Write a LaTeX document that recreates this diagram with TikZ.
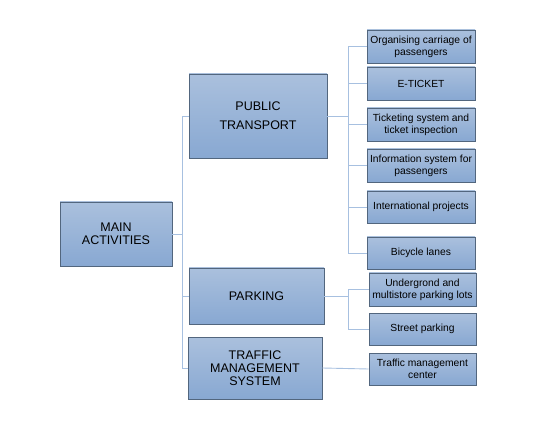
\documentclass[tikz,border=0pt]{standalone}
\usepackage{fontspec}
\setmainfont{Liberation Sans}
\definecolor{boxtop}{HTML}{AAC0DD}
\definecolor{boxbot}{HTML}{88A8D2}
\definecolor{boxline}{HTML}{52667E}
\definecolor{conn}{HTML}{A7C0E0}
\begin{document}
\begin{tikzpicture}[x=1pt,y=-1pt,
  box/.style={draw=boxline,line width=0.9pt,top color=boxtop,bottom color=boxbot,
    align=center,inner sep=0pt,text=black},
  big/.style={box,font=\fontsize{12.5}{13.3}\selectfont},
  small/.style={box,font=\fontsize{10.3}{11.7}\selectfont,minimum width=108pt,minimum height=33pt},
  link/.style={draw=conn,line width=0.9pt}]
\useasboundingbox (0,0) rectangle (555,433);
\node[big,minimum width=112pt,minimum height=64pt] (ma) at (116,234) {MAIN\\ACTIVITIES};
\node[big,minimum width=138pt,minimum height=84pt] (pt) at (258,116) {PUBLIC\\[5.7pt]TRANSPORT};
\node[big,minimum width=135pt,minimum height=56pt] (pk) at (256.5,296) {PARKING};
\node[big,minimum width=134pt,minimum height=62pt] (tms) at (255,368) {TRAFFIC\\MANAGEMENT\\SYSTEM};
\node[small] (org) at (421,46.5) {Organising carriage of\\passengers};
\node[small] (et) at (421,83.5) {E-TICKET};
\node[small] (tk) at (421,124.5) {Ticketing system and\\ticket inspection};
\node[small] (inf) at (421,165.5) {Information system for\\passengers};
\node[small,minimum height=32pt] (intl) at (421,207) {International projects};
\node[small,minimum height=32pt] (bike) at (421,253) {Bicycle lanes};
\node[small,minimum width=107pt] (und) at (422.5,289.5) {Undergrond and\\multistore parking lots};
\node[small,minimum width=107pt,minimum height=32pt] (st) at (422.5,329) {Street parking};
\node[small,minimum width=107pt,minimum height=32pt] (tmc) at (422.5,369) {Traffic management\\center};
\coordinate (trunk) at (182,234);
\draw[link] (ma.east) -- (trunk);
\draw[link] (trunk) |- (pt.west);
\draw[link] (trunk) |- (pk.west);
\draw[link] (trunk) |- (tms.west);
\coordinate (ptbus) at (348,116);
\draw[link] (pt.east) -- (ptbus);
\foreach \n in {org,et,tk,inf,intl,bike} \draw[link] (ptbus) |- (\n.west);
\coordinate (pkbus) at (348,296);
\draw[link] (pk.east) -- (pkbus);
\draw[link] (pkbus) |- (und.west);
\draw[link] (pkbus) |- (st.west);
\draw[link] (tms.east) -- (tmc.west);
\end{tikzpicture}
\end{document}
